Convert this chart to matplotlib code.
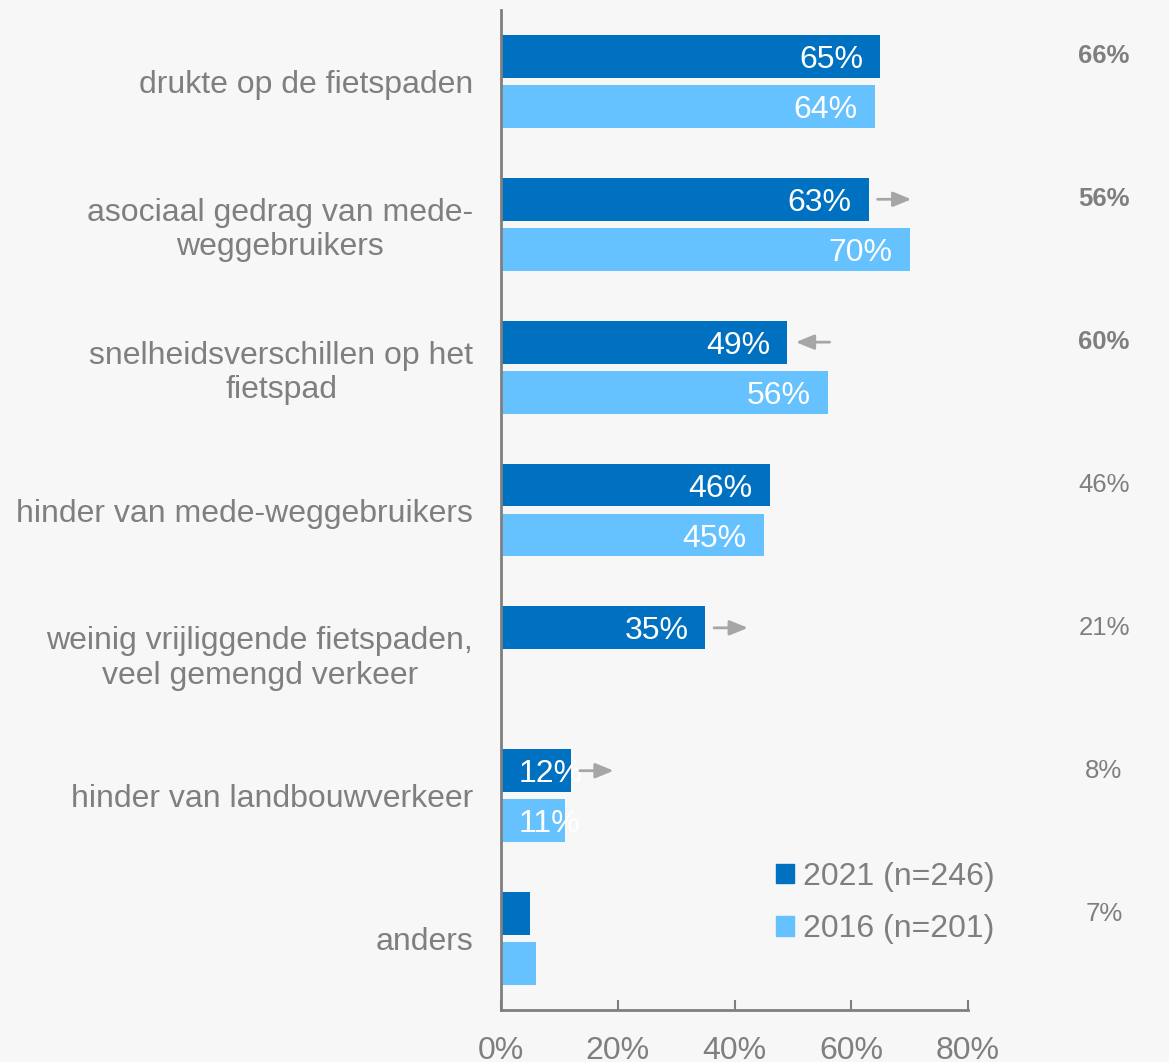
import matplotlib
matplotlib.use("Agg")
import matplotlib.pyplot as plt
from matplotlib.patches import Patch
import numpy as np

plt.rcParams['font.family'] = ['Liberation Sans', 'DejaVu Sans']

categories = [
    "drukte op de fietspaden",
    "asociaal gedrag van mede-\nweggebruikers",
    "snelheidsverschillen op het\nfietspad",
    "hinder van mede-weggebruikers",
    "weinig vrijliggende fietspaden,\nveel gemengd verkeer",
    "hinder van landbouwverkeer",
    "anders",
]
values_2021 = [65, 63, 49, 46, 35, 12, 5]
values_2016 = [64, 70, 56, 45, np.nan, 11, 6]
labels_2021 = ["65%", "63%", "49%", "46%", "35%", "12%", ""]
labels_2016 = ["64%", "70%", "56%", "45%", "", "11%", ""]
arrows = ["", "up", "down", "", "up", "up", ""]
right_values = ["66%", "56%", "60%", "46%", "21%", "8%", "7%"]
right_bold = [True, True, True, False, False, False, False]
series_names = ["2021 (n=246)", "2016 (n=201)"]
x_ticks = [0, 20, 40, 60, 80]
x_ticklabels = ["0%", "20%", "40%", "60%", "80%"]

BG = "#F7F7F7"
DARK = "#0070C0"
LIGHT = "#66C1FF"
GREY = "#7F7F7F"
ARROW = "#A6A6A6"

W, H = 1169, 1062
fig = plt.figure(figsize=(W / 100, H / 100), dpi=100, facecolor=BG)
ax = fig.add_axes([501 / W, 1 - 1010 / H, (968 - 501) / W, 1000 / H])
ax.set_facecolor(BG)

y = np.arange(len(categories))
bh = 0.30
off = 0.175
ax.barh(y - off, values_2021, height=bh, color=DARK, label=series_names[0])
ax.barh(y + off, np.nan_to_num(values_2016), height=bh, color=LIGHT, label=series_names[1])

ax.set_xlim(0, 80)
ax.set_ylim(6.5, -0.5)

fs = 23
for i in range(len(categories)):
    for vals, labs, dy in ((values_2021, labels_2021, -off), (values_2016, labels_2016, off)):
        lab = labs[i]
        if not lab:
            continue
        v = vals[i]
        if v < 20:
            ax.text(3.1, i + dy, lab, ha='left', va='center_baseline', color='white', fontsize=fs)
        else:
            ax.text(v - 2.9, i + dy, lab, ha='right', va='center_baseline', color='white', fontsize=fs)
    a = arrows[i]
    if a:
        start = values_2021[i] + 1.5
        style = "-|>,head_length=1.1,head_width=0.45"
        if a == "up":
            ax.annotate("", xy=(start + 5.8, i - off), xytext=(start, i - off),
                        arrowprops=dict(arrowstyle=style, color=ARROW, lw=2.0, shrinkA=0, shrinkB=0))
        else:
            ax.annotate("", xy=(start, i - off), xytext=(start + 5.8, i - off),
                        arrowprops=dict(arrowstyle=style, color=ARROW, lw=2.0, shrinkA=0, shrinkB=0))

# category labels
ax.set_yticks(y)
ax.set_yticklabels(categories, fontsize=fs, color=GREY, multialignment='center')
ax.tick_params(axis='y', length=0, pad=20)

ax.set_xticks(x_ticks)
ax.set_xticklabels(x_ticklabels, fontsize=fs, color=GREY)
ax.tick_params(axis='x', direction='in', length=7, width=1.5, color=GREY, pad=19)

for s in ("top", "right"):
    ax.spines[s].set_visible(False)
for s in ("left", "bottom"):
    ax.spines[s].set_color(GREY)
    ax.spines[s].set_linewidth(2)

# right column
trans = matplotlib.transforms.blended_transform_factory(fig.transFigure, ax.transData)
for i, (t, b) in enumerate(zip(right_values, right_bold)):
    ax.text(1104 / W, i - off, t, transform=trans, ha='center', va='center',
            fontsize=18.5, color=GREY, fontweight='bold' if b else 'normal', clip_on=False)

handles = [Patch(color=DARK), Patch(color=LIGHT)]
leg = fig.legend(handles, series_names, loc='upper left', bbox_to_anchor=(776 / W, 1 - 862 / H),
                 frameon=False, fontsize=fs, handlelength=0.55, handleheight=0.55,
                 handletextpad=0.3, labelspacing=0.7, borderaxespad=0, borderpad=0)
for t in leg.get_texts():
    t.set_color(GREY)

fig.savefig("out.png", dpi=100, facecolor=BG)
